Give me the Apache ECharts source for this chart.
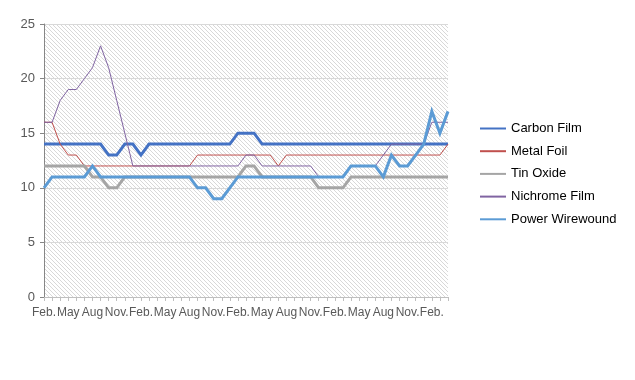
<!DOCTYPE html>
<html>
<head>
<meta charset="utf-8">
<script src="https://cdn.jsdelivr.net/npm/echarts@6/dist/echarts.min.js"></script>
<style>
html,body{margin:0;padding:0;background:#fff;}
#chart{width:635px;height:380px;}
</style>
</head>
<body>
<div id="chart"></div>
<script>
// Categories (monthly, starting Feb.)
var months = ['Feb.','Mar.','Apr.','May','Jun.','Jul.','Aug','Sep.','Oct.','Nov.','Dec.','Jan.',
              'Feb.','Mar.','Apr.','May','Jun.','Jul.','Aug','Sep.','Oct.','Nov.','Dec.','Jan.',
              'Feb.','Mar.','Apr.','May','Jun.','Jul.','Aug','Sep.','Oct.','Nov.','Dec.','Jan.',
              'Feb.','Mar.','Apr.','May','Jun.','Jul.','Aug','Sep.','Oct.','Nov.','Dec.','Jan.',
              'Feb.','Mar.','Apr.'];

var carbonFilm = [14,14,14,14,14,14,14,14,13,13,14,14,13,14,14,14,14,14,14,14,14,14,14,14,15,15,15,
                  14,14,14,14,14,14,14,14,14,14,14,14,14,14,14,14,14,14,14,14,14,14,14,14];
var metalFoil = [16,16,14,13,13,12,12,12,12,12,12,12,12,12,12,12,12,12,12,13,13,13,13,13,13,13,13,13,13,
                 12,13,13,13,13,13,13,13,13,13,13,13,13,13,13,13,13,13,13,13,13,14];
var tinOxide = [12,12,12,12,12,12,11,11,10,10,11,11,11,11,11,11,11,11,11,11,11,11,11,11,11,12,12,
                11,11,11,11,11,11,11,10,10,10,10,11,11,11,11,11,11,11,11,11,11,11,11,11];
var nichromeFilm = [16,16,18,19,19,20,21,23,21,18,15,12,12,12,12,12,12,12,12,12,12,12,12,12,12,13,13,
                    12,12,12,12,12,12,12,11,11,11,11,12,12,12,12,13,14,14,14,14,14,16,16,16];
var powerWirewound = [10,11,11,11,11,11,12,11,11,11,11,11,11,11,11,11,11,11,11,10,10,9,9,10,
                      11,11,11,11,11,11,11,11,11,11,11,11,11,11,12,12,12,12,11,13,12,12,13,14,17,15,17];

var seriesNames = ['Carbon Film','Metal Foil','Tin Oxide','Nichrome Film','Power Wirewound'];
var yTicks = [0,5,10,15,20,25];

// hatch pattern for plot background
var pc = document.createElement('canvas');
pc.width = 4; pc.height = 4;
var pctx = pc.getContext('2d');
pctx.fillStyle = '#ffffff';
pctx.fillRect(0,0,4,4);
pctx.fillStyle = '#d8d8d8';
for (var k = 0; k < 4; k++) { pctx.fillRect(k, k, 1, 1); }

var chart = echarts.init(document.getElementById('chart'), null, {renderer:'canvas'});
function line(name, data, color, width) {
  return {
    name: name, type: 'line', data: data, symbol: 'none', smooth: false,
    lineStyle: {color: color, width: width, join: 'miter'},
    itemStyle: {color: color},
    emphasis: {disabled: true}, animation: false
  };
}
chart.setOption({
  animation: false,
  textStyle: {fontFamily: 'Liberation Sans, Arial, sans-serif'},
  grid: {left: 44, right: 187, top: 24, bottom: 83, show: true,
         backgroundColor: {image: pc, repeat: 'repeat'}, borderWidth: 0},
  legend: {
    orient: 'vertical', left: 479, top: 122, padding: 0, itemWidth: 26, itemHeight: 14, itemGap: 9.7,
    data: seriesNames,
    itemStyle: {opacity: 0},
    textStyle: {fontSize: 13, color: '#000000', fontFamily: 'Liberation Sans, Arial, sans-serif'}
  },
  xAxis: {
    type: 'category', data: months, boundaryGap: false,
    axisLine: {lineStyle: {color: '#bfbfbf', width: 1}},
    axisTick: {show: true, interval: 0, length: 4, lineStyle: {color: '#bfbfbf'}},
    axisLabel: {interval: 2, fontSize: 12, color: '#595959', margin: 10, hideOverlap: false,
                fontFamily: 'Liberation Sans, Arial, sans-serif'},
    splitLine: {show: false}
  },
  yAxis: {
    type: 'value', min: yTicks[0], max: yTicks[yTicks.length-1], interval: 5,
    axisLine: {show: true, lineStyle: {color: '#868686', width: 1}},
    axisTick: {show: true, length: 4, lineStyle: {color: '#868686'}},
    axisLabel: {fontSize: 13, color: '#595959', margin: 9,
                fontFamily: 'Liberation Sans, Arial, sans-serif'},
    splitLine: {show: true, lineStyle: {color: '#d9d9d9', width: 1}}
  },
  series: [
    line(seriesNames[0], carbonFilm, '#4472C4', 3),
    line(seriesNames[1], metalFoil, '#C0504D', 1),
    line(seriesNames[2], tinOxide, '#A5A5A5', 3),
    line(seriesNames[3], nichromeFilm, '#8064A2', 1),
    line(seriesNames[4], powerWirewound, '#5B9BD5', 3)
  ]
});
</script>
</body>
</html>
